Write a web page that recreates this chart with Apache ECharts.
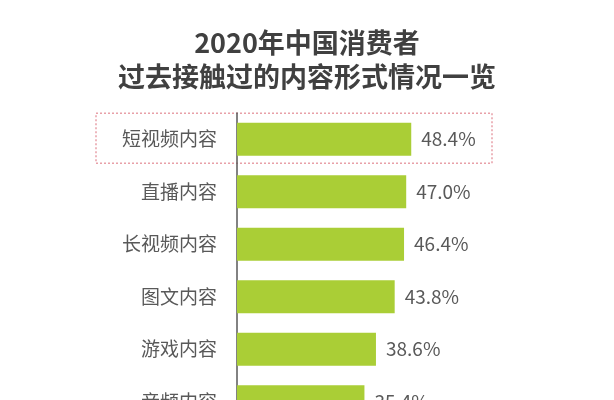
<!DOCTYPE html>
<html><head><meta charset="utf-8">
<script src="https://cdn.jsdelivr.net/npm/echarts@6/dist/echarts.min.js"></script>
<style>html,body{margin:0;padding:0;background:#fff;overflow:hidden;width:614px;height:400px}#c{width:614px;height:440px}</style>
</head><body><div id="c"></div>
<script>
const titleLines = ['2020年中国消费者', '过去接触过的内容形式情况一览'];
const categories = ['短视频内容', '直播内容', '长视频内容', '图文内容', '游戏内容', '音频内容'];
const values = [48.4, 47.0, 46.4, 43.8, 38.6, 35.4];

const chart = echarts.init(document.getElementById('c'), null, {renderer: 'canvas'});
const font = '"Microsoft YaHei","Noto Sans CJK SC",sans-serif';
chart.setOption({
  animation: false,
  backgroundColor: '#fff',
  title: {
    text: titleLines.join('\n'),
    left: 'center', top: 21,
    textStyle: {fontFamily: font, fontSize: 27, fontWeight: 'bold', color: '#404040', lineHeight: 34}
  },
  grid: {left: 237, right: 161, top: 113, bottom: 12, containLabel: false},
  xAxis: {type: 'value', min: 0, max: 60, show: false},
  yAxis: {
    type: 'category', data: categories, inverse: true,
    axisLine: {show: true, lineStyle: {color: '#595959', width: 1.5}},
    axisTick: {show: false},
    axisLabel: {fontFamily: font, fontSize: 19, color: '#595959', margin: 20}
  },
  series: [{
    type: 'bar', data: values, barWidth: 33,
    itemStyle: {color: '#aace36'},
    label: {show: true, position: 'right', distance: 10, formatter: p => p.value.toFixed(1) + '%',
      fontFamily: font, fontSize: 19, color: '#595959'}
  }]
});
const y0 = chart.convertToPixel({yAxisIndex: 0}, categories[0]);
chart.setOption({graphic: [{
  type: 'rect', shape: {x: 96, y: y0 - 26, width: 396, height: 50},
  style: {fill: 'none', stroke: '#e8a0a8', lineWidth: 1.5, lineDash: [2, 2]}
}]});
</script></body></html>
